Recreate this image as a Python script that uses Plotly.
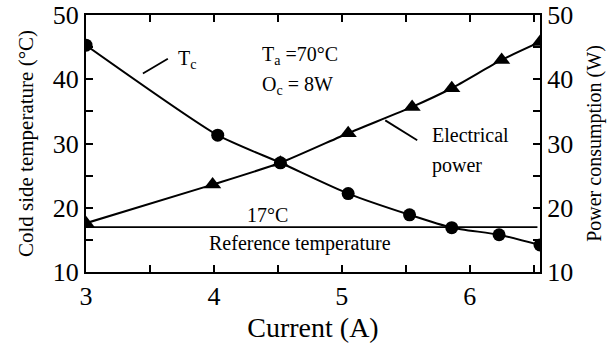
import plotly.graph_objects as go

# Data
current_tc = [3.0, 4.03, 4.52, 5.05, 5.53, 5.86, 6.23, 6.55]
tc_values = [45.3, 31.3, 27.0, 22.2, 18.9, 16.9, 15.8, 14.2]

current_pw = [3.0, 3.99, 4.52, 5.05, 5.55, 5.86, 6.25, 6.55]
power_values = [17.6, 23.6, 27.0, 31.6, 35.7, 38.6, 43.0, 45.8]

ref_x = [3.0, 6.53]
ref_temp = [17, 17]

x_tickvals = [3, 3.5, 4, 4.5, 5, 5.5, 6, 6.5]
x_ticktext = ["3", "", "4", "", "5", "", "6", ""]
y_tickvals = [10, 15, 20, 25, 30, 35, 40, 45, 50]
y_ticktext = ["10", "", "20", "", "30", "", "40", "", "50"]

FONT = "Liberation Serif"
TICKFONT = "Liberation Serif, serif"

fig = go.Figure()
fig.add_trace(go.Scatter(x=ref_x, y=ref_temp, mode="lines",
                         line=dict(color="black", width=1.8), showlegend=False,
                         hoverinfo="skip"))
fig.add_trace(go.Scatter(x=current_tc, y=tc_values, mode="lines+markers",
                         line=dict(color="black", width=2, shape="spline", smoothing=0.6),
                         marker=dict(symbol="circle", size=13, color="black"),
                         showlegend=False))
fig.add_trace(go.Scatter(x=current_pw, y=power_values, mode="lines+markers",
                         line=dict(color="black", width=2, shape="spline", smoothing=0.6),
                         marker=dict(symbol="triangle-up", size=15, color="black"),
                         showlegend=False, yaxis="y2"))

ann_font = dict(family=FONT, size=20, color="black")
anns = [
    dict(x=3.79, y=43.0, text="T<sub>c</sub>", xanchor="center", yanchor="middle"),
    dict(x=4.36, y=43.75, text="T<sub>a</sub> =70°C", xanchor="left", yanchor="middle"),
    dict(x=4.36, y=39.1, text="O<sub>c</sub> = 8W", xanchor="left", yanchor="middle"),
    dict(x=5.69, y=31.3, text="Electrical", xanchor="left", yanchor="middle"),
    dict(x=5.69, y=26.6, text="power", xanchor="left", yanchor="middle"),
    dict(x=4.42, y=18.9, text="17°C", xanchor="center", yanchor="middle"),
    dict(x=4.67, y=14.5, text="Reference temperature", xanchor="center", yanchor="middle"),
]
for a in anns:
    fig.add_annotation(xref="x", yref="y", showarrow=False, font=ann_font, **a)

fig.add_shape(type="line", xref="x", yref="y", x0=3.445, y0=40.9, x1=3.64, y1=43.2,
              line=dict(color="black", width=1.8))
fig.add_shape(type="line", xref="x", yref="y", x0=5.34, y0=33.6, x1=5.59, y1=30.5,
              line=dict(color="black", width=1.8))

axis_common = dict(showline=True, linecolor="black", linewidth=2, ticks="inside",
                   ticklen=7, tickwidth=2, tickcolor="black", showgrid=False,
                   zeroline=False, automargin=False, ticklabeloverflow="allow",
                   tickfont=dict(family=TICKFONT, size=26, color="black"))

fig.update_layout(
    template="none",
    width=610, height=343,
    margin=dict(l=86, r=70, t=15, b=71),
    paper_bgcolor="white", plot_bgcolor="white",
    font=dict(family=FONT, color="black", size=26),
    xaxis=dict(range=[3, 6.55], tickvals=x_tickvals, ticktext=x_ticktext, mirror="ticks",
               title=dict(text="Current (A)", font=dict(family=FONT, size=28, color="black")),
               **axis_common),
    yaxis=dict(range=[10, 50], tickvals=y_tickvals, ticktext=y_ticktext,
               title=dict(text="Cold side temperature (°C)",
                          font=dict(family=FONT, size=21, color="black")),
               **axis_common),
    yaxis2=dict(range=[10, 50], tickvals=y_tickvals, ticktext=y_ticktext, overlaying="y",
                side="right",
                title=dict(text="Power consumption (W)",
                           font=dict(family=FONT, size=20, color="black")),
                **axis_common),
)

# remove the browser's default 8px page margin so the figure fills the window
fig.write_html("out.html", config={"displayModeBar": False},
               post_script="document.body.style.margin='0';document.body.style.padding='0';")
